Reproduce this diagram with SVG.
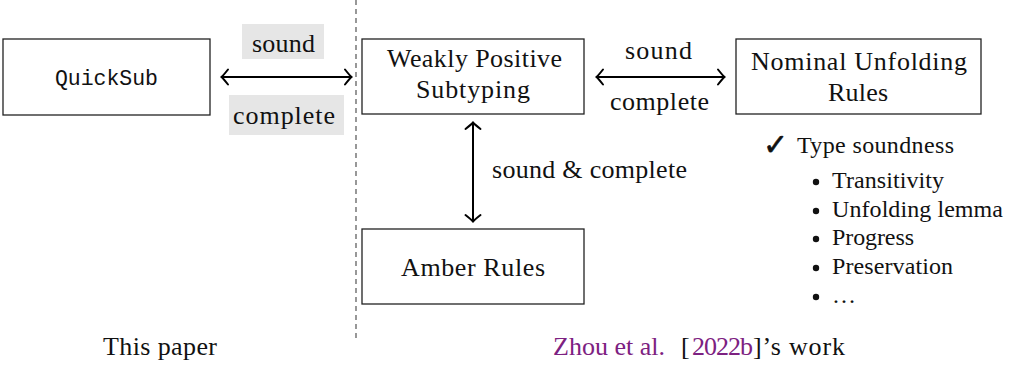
<svg xmlns="http://www.w3.org/2000/svg" width="1012" height="367" viewBox="0 0 1012 367">
<style>
.box{fill:#fff;stroke:#222;stroke-width:1.3}
.t{font-family:"Liberation Serif","Times New Roman",serif;font-size:26px;fill:#111}
.li{font-family:"Liberation Serif","Times New Roman",serif;font-size:24px;fill:#111}
.mono{font-family:"Liberation Mono","DejaVu Sans Mono",monospace;font-size:21.5px;fill:#111}
.arr{stroke:#000;stroke-width:2;fill:none;marker-start:url(#tip);marker-end:url(#tip)}
.hl{fill:#e6e6e6}
.pur{fill:#7d2181}
</style>
<defs>
<marker id="tip" markerUnits="userSpaceOnUse" viewBox="-10 -10 12 20" refX="0" refY="0" markerWidth="12" markerHeight="20" orient="auto-start-reverse">
<path d="M-6,-7.5 Q-1.5,-1.8 0.5,0 Q-1.5,1.8 -6,7.5" fill="none" stroke="#000" stroke-width="2" stroke-linecap="round"/>
</marker>
</defs>
<rect width="1012" height="367" fill="#fff"/>
<line x1="356" y1="0" x2="356" y2="340" stroke="#444" stroke-width="1.1" stroke-dasharray="5 4"/>
<g id="connectors">
<line class="arr" x1="222" y1="77" x2="351" y2="77"/>
<rect class="hl" x="242" y="24" width="82" height="35"/>
<text class="t" x="252" y="52" textLength="63">sound</text>
<rect class="hl" x="229" y="95" width="115" height="40"/>
<text class="t" x="233" y="124" textLength="102">complete</text>
<line class="arr" x1="597" y1="77" x2="724" y2="77"/>
<text class="t" x="625" y="59" textLength="67">sound</text>
<text class="t" x="610" y="110" textLength="99">complete</text>
<line class="arr" x1="473" y1="123" x2="473" y2="221"/>
<text class="t" x="492" y="178" textLength="195">sound &amp; complete</text>
</g>
<g id="quicksub">
<rect class="box" x="3" y="39" width="207" height="76"/>
<text class="mono" x="55" y="84.5" textLength="103">QuickSub</text>
</g>
<g id="wps">
<rect class="box" x="362" y="39" width="222" height="75"/>
<text class="t" x="387" y="67" textLength="175">Weakly Positive</text>
<text class="t" x="416" y="98" textLength="114">Subtyping</text>
</g>
<g id="nur">
<rect class="box" x="736" y="39" width="245" height="75"/>
<text class="t" x="751" y="70" textLength="216">Nominal Unfolding</text>
<text class="t" x="828" y="101" textLength="60">Rules</text>
</g>
<g id="amber">
<rect class="box" x="362" y="229" width="222" height="75"/>
<text class="t" x="401" y="276" textLength="144">Amber Rules</text>
</g>
<g id="list">
<text x="763" y="155" textLength="19" style="font-family:'DejaVu Sans',sans-serif;font-size:30px;fill:#111;stroke:#111;stroke-width:0.6">✓</text>
<text class="li" x="797" y="153" textLength="157">Type soundness</text>
<circle cx="816" cy="182" r="3.2" fill="#111"/>
<text class="li" x="832" y="188" textLength="112">Transitivity</text>
<circle cx="816" cy="211" r="3.2" fill="#111"/>
<text class="li" x="832" y="217" textLength="171">Unfolding lemma</text>
<circle cx="816" cy="239" r="3.2" fill="#111"/>
<text class="li" x="832" y="245" textLength="82">Progress</text>
<circle cx="816" cy="268" r="3.2" fill="#111"/>
<text class="li" x="832" y="274" textLength="121">Preservation</text>
<circle cx="816" cy="297" r="3.2" fill="#111"/>
<text class="li" x="832" y="303" textLength="20">…</text>
</g>
<g id="captions">
<text class="t" x="103" y="355" textLength="114">This paper</text>
<text class="t" y="355"><tspan class="pur" x="553" textLength="112">Zhou et al.</tspan><tspan x="681">[</tspan><tspan class="pur" x="692" textLength="61">2022b</tspan><tspan x="753" textLength="92">]’s work</tspan></text>
</g>
</svg>
